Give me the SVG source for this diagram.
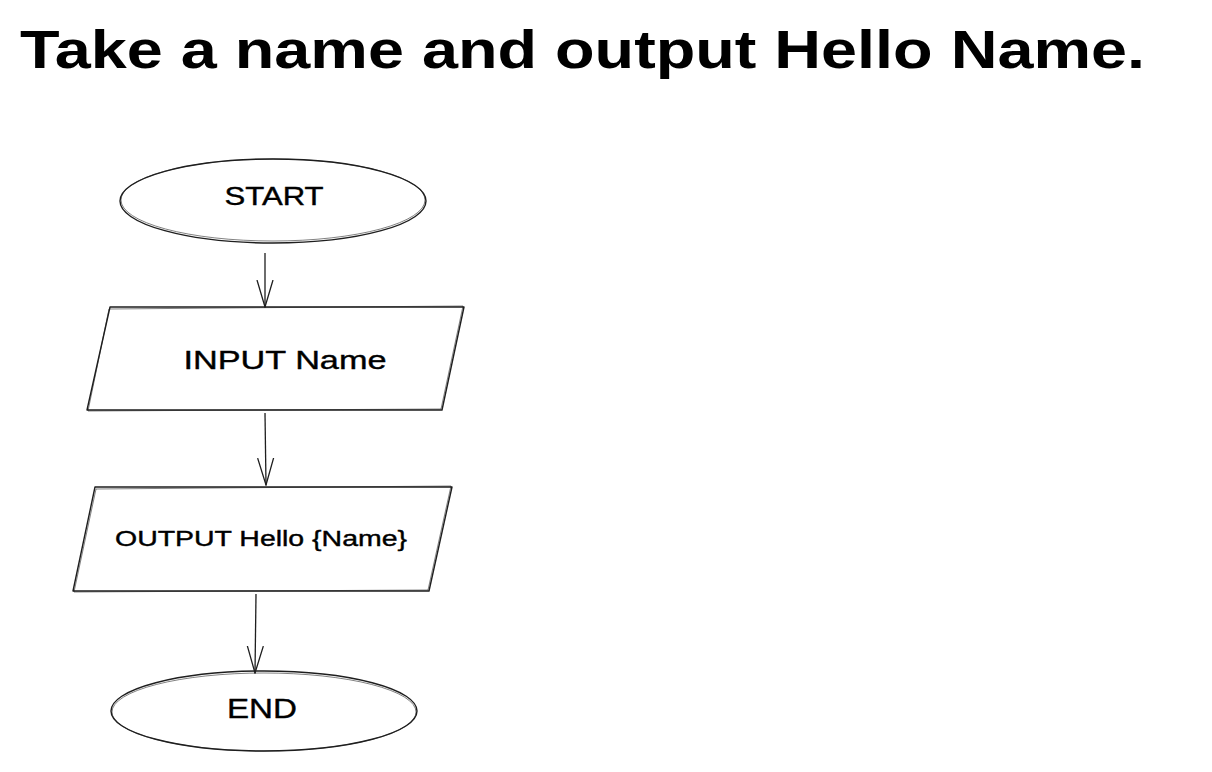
<svg xmlns="http://www.w3.org/2000/svg" width="1212" height="772" viewBox="0 0 1212 772">
<style>
.shape{fill:none;stroke:#1e1e1e;stroke-width:1.4;stroke-linejoin:round}
.shape2{fill:none;stroke:#1e1e1e;stroke-width:0.8;opacity:0.7}
.conn{fill:none;stroke:#1e1e1e;stroke-width:1.3}
.lbl{font-family:"Liberation Sans","DejaVu Sans",sans-serif;fill:#000;text-anchor:middle;stroke:#000;stroke-width:0.4}
.title{font-family:"Liberation Sans","DejaVu Sans",sans-serif;fill:#000;font-size:54px;font-weight:bold}
</style>
<defs>
<marker id="arr" viewBox="0 0 28 20" refX="27" refY="10" markerWidth="28" markerHeight="20" markerUnits="userSpaceOnUse" orient="auto">
<polyline points="0,2 27,10 0,18" fill="none" stroke="#1e1e1e" stroke-width="1.3"/>
</marker>
</defs>
<rect width="1212" height="772" fill="#fff"/>
<text class="title" x="20" y="68" textLength="1125" lengthAdjust="spacingAndGlyphs">Take a name and output Hello Name.</text>
<g id="start">
<ellipse class="shape" cx="273" cy="201" rx="153" ry="42"/>
<ellipse class="shape2" cx="273" cy="200" rx="152" ry="41"/>
<text class="lbl" x="274" y="205" font-size="25" textLength="99" lengthAdjust="spacingAndGlyphs">START</text>
</g>
<g id="input">
<polygon class="shape" points="110,307 464,307 442,410 87,410"/>
<polyline class="shape2" points="109,309 463,306 441,409 88,411 109,309"/>
<text class="lbl" x="285" y="369" font-size="26" textLength="203" lengthAdjust="spacingAndGlyphs">INPUT Name</text>
</g>
<g id="output">
<polygon class="shape" points="95,487 452,487 429,591 73,591"/>
<polyline class="shape2" points="96,489 451,486 428,590 74,592 96,489"/>
<text class="lbl" x="261" y="546" font-size="22" textLength="292" lengthAdjust="spacingAndGlyphs">OUTPUT Hello {Name}</text>
</g>
<g id="end">
<ellipse class="shape" cx="264" cy="711" rx="153" ry="40"/>
<ellipse class="shape2" cx="264" cy="712" rx="152" ry="39"/>
<text class="lbl" x="262" y="718" font-size="27" textLength="70" lengthAdjust="spacingAndGlyphs">END</text>
</g>
<g id="connectors">
<path class="conn" d="M265,253 L265,307" marker-end="url(#arr)"/>
<path class="conn" d="M265,413 L266,485" marker-end="url(#arr)"/>
<path class="conn" d="M256,594 L255,673" marker-end="url(#arr)"/>
</g>
</svg>
